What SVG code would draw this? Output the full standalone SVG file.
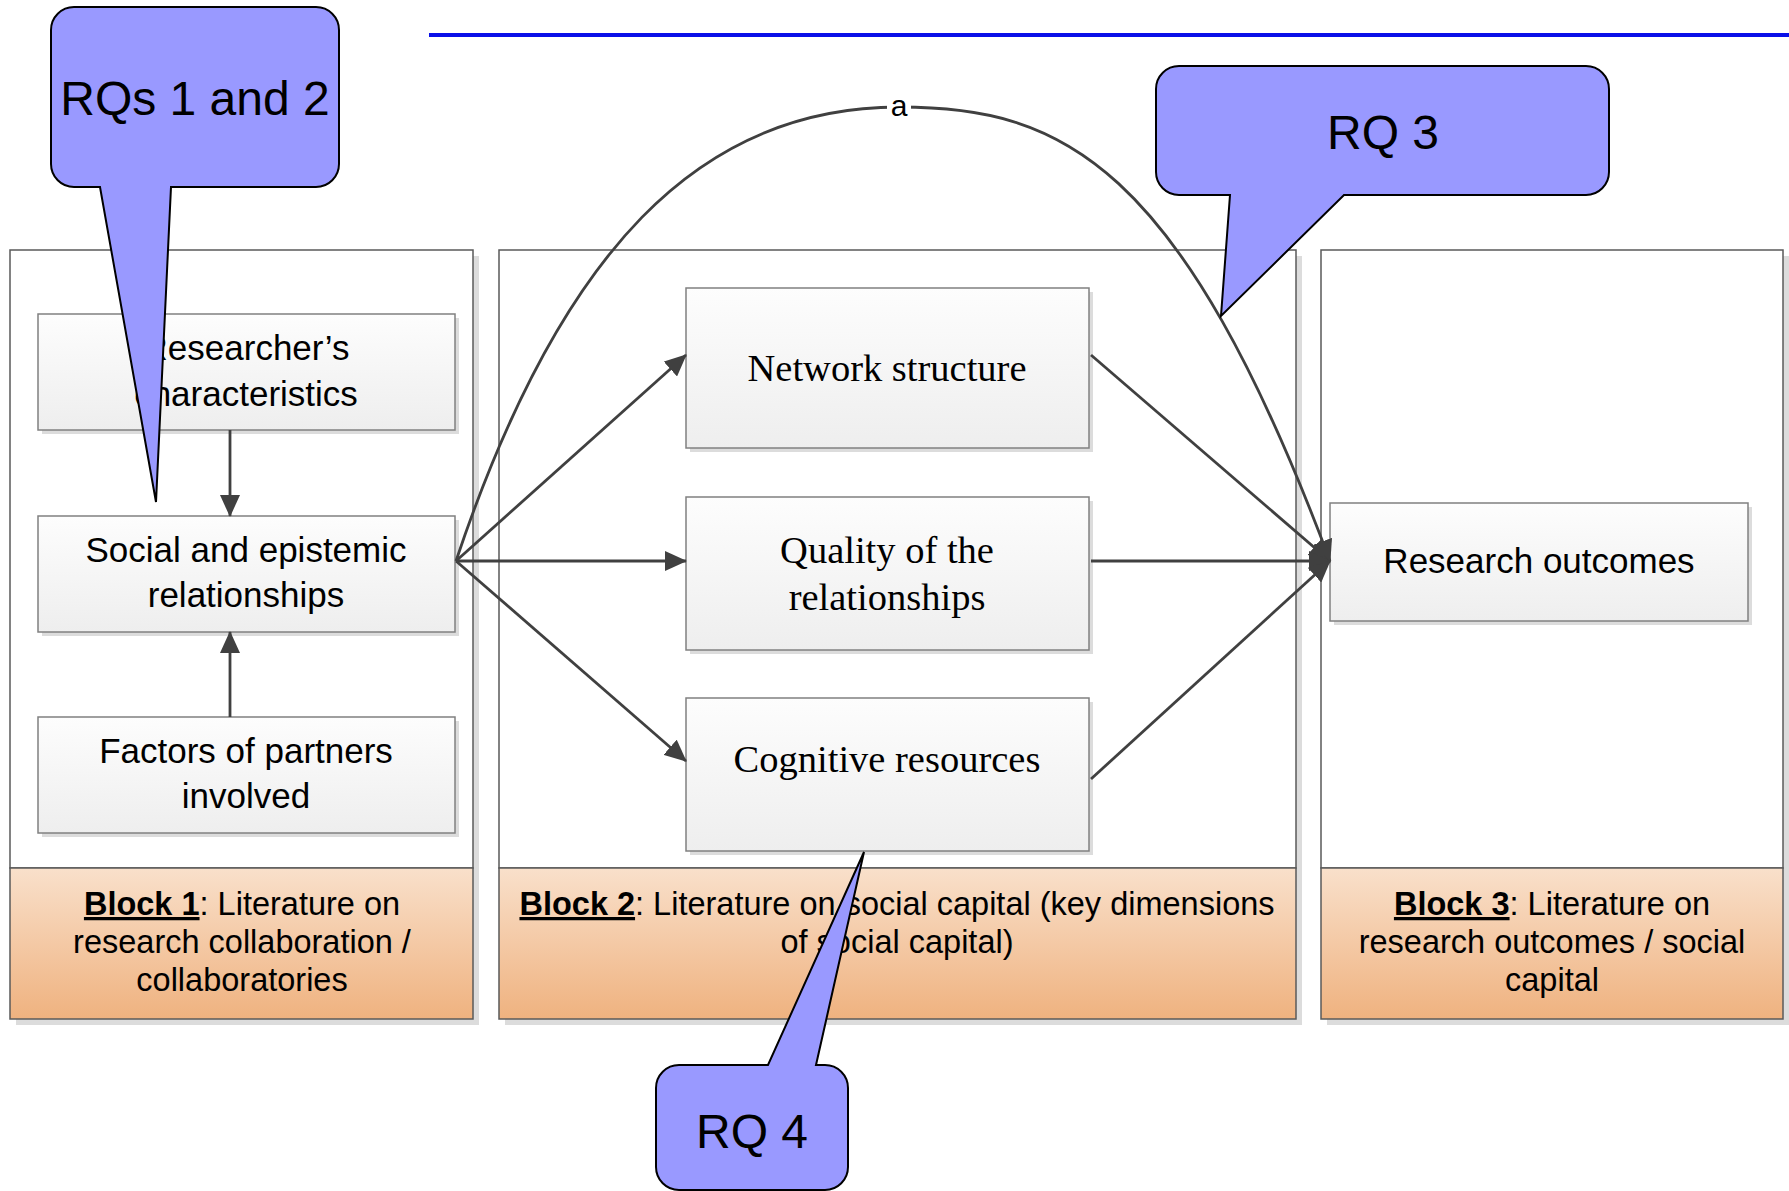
<svg xmlns="http://www.w3.org/2000/svg" width="1789" height="1191" viewBox="0 0 1789 1191">
  <defs>
    <linearGradient id="boxFill" x1="0" y1="0" x2="0" y2="1">
      <stop offset="0" stop-color="#FDFDFD"/>
      <stop offset="1" stop-color="#EEEEEE"/>
    </linearGradient>
    <linearGradient id="bandFill" x1="0" y1="0" x2="0" y2="1">
      <stop offset="0" stop-color="#F9E0CB"/>
      <stop offset="1" stop-color="#EFB27F"/>
    </linearGradient>
    <marker id="arrow" markerUnits="userSpaceOnUse" viewBox="0 0 22 20" markerWidth="22" markerHeight="20" refX="21" refY="10" orient="auto">
      <path d="M0,0 L22,10 L0,20 Z" fill="#404040"/>
    </marker>
  </defs>
  <style>
    .block { fill: #FFFFFF; stroke: #5A5A5A; stroke-width: 1.5; }
    .band { fill: url(#bandFill); stroke: #5A5A5A; stroke-width: 1.5; }
    .shadow { fill: #DCDCDC; }
    .box { fill: url(#boxFill); stroke: #808080; stroke-width: 1.5; }
    .sans { font-family: "Liberation Sans", Arial, sans-serif; fill: #000; text-anchor: middle; }
    .serif { font-family: "Liberation Serif", "Times New Roman", serif; fill: #000; text-anchor: middle; font-size: 38.5px; }
    .boxtext { font-size: 35px; }
    .bandtext { font-size: 32.5px; }
    .edge { fill: none; stroke: #404040; stroke-width: 2.8; marker-end: url(#arrow); }
    .callout { fill: #9999FF; stroke: #000; stroke-width: 2; stroke-linejoin: miter; }
    .rq { font-family: "Liberation Sans", Arial, sans-serif; font-size: 48px; text-anchor: middle; fill: #000; }
  </style>

  <!-- header rule -->
  <line x1="429" y1="35" x2="1789" y2="35" stroke="#0A10E8" stroke-width="4"/>

  <!-- Block 1 -->
  <g id="block1">
    <rect class="shadow" x="16" y="256" width="463" height="769"/>
    <rect class="block" x="10" y="250" width="463" height="618"/>
    <rect class="band" x="10" y="868" width="463" height="151"/>
    <text class="sans bandtext" x="242" y="915"><tspan font-weight="bold" text-decoration="underline">Block 1</tspan>: Literature on</text>
    <text class="sans bandtext" x="242" y="953">research collaboration /</text>
    <text class="sans bandtext" x="242" y="991">collaboratories</text>
  </g>

  <!-- Block 2 -->
  <g id="block2">
    <rect class="shadow" x="505" y="256" width="797" height="769"/>
    <rect class="block" x="499" y="250" width="797" height="618"/>
    <rect class="band" x="499" y="868" width="797" height="151"/>
    <text class="sans bandtext" x="897" y="915"><tspan font-weight="bold" text-decoration="underline">Block 2</tspan>: Literature on social capital (key dimensions</text>
    <text class="sans bandtext" x="897" y="953">of social capital)</text>
  </g>

  <!-- Block 3 -->
  <g id="block3">
    <rect class="shadow" x="1327" y="256" width="462" height="769"/>
    <rect class="block" x="1321" y="250" width="462" height="618"/>
    <rect class="band" x="1321" y="868" width="462" height="151"/>
    <text class="sans bandtext" x="1552" y="915"><tspan font-weight="bold" text-decoration="underline">Block 3</tspan>: Literature on</text>
    <text class="sans bandtext" x="1552" y="953">research outcomes / social</text>
    <text class="sans bandtext" x="1552" y="991">capital</text>
  </g>

  <!-- Block 1 boxes -->
  <g id="researchers-characteristics">
    <rect class="shadow" x="42" y="318" width="417" height="116"/>
    <rect class="box" x="38" y="314" width="417" height="116"/>
    <text class="sans boxtext" x="246" y="360">Researcher’s</text>
    <text class="sans boxtext" x="246" y="406">characteristics</text>
  </g>
  <g id="social-epistemic">
    <rect class="shadow" x="42" y="520" width="417" height="116"/>
    <rect class="box" x="38" y="516" width="417" height="116"/>
    <text class="sans boxtext" x="246" y="562">Social and epistemic</text>
    <text class="sans boxtext" x="246" y="607">relationships</text>
  </g>
  <g id="factors-partners">
    <rect class="shadow" x="42" y="721" width="417" height="116"/>
    <rect class="box" x="38" y="717" width="417" height="116"/>
    <text class="sans boxtext" x="246" y="763">Factors of partners</text>
    <text class="sans boxtext" x="246" y="808">involved</text>
  </g>

  <!-- Block 2 boxes -->
  <g id="network-structure">
    <rect class="shadow" x="690" y="292" width="403" height="160"/>
    <rect class="box" x="686" y="288" width="403" height="160"/>
    <text class="serif" x="887" y="381">Network structure</text>
  </g>
  <g id="quality-relationships">
    <rect class="shadow" x="690" y="501" width="403" height="153"/>
    <rect class="box" x="686" y="497" width="403" height="153"/>
    <text class="serif" x="887" y="563">Quality of the</text>
    <text class="serif" x="887" y="610">relationships</text>
  </g>
  <g id="cognitive-resources">
    <rect class="shadow" x="690" y="702" width="403" height="153"/>
    <rect class="box" x="686" y="698" width="403" height="153"/>
    <text class="serif" x="887" y="772">Cognitive resources</text>
  </g>

  <!-- Block 3 box -->
  <g id="research-outcomes">
    <rect class="shadow" x="1334" y="507" width="418" height="118"/>
    <rect class="box" x="1330" y="503" width="418" height="118"/>
    <text class="sans boxtext" x="1539" y="573">Research outcomes</text>
  </g>

  <!-- connectors -->
  <g id="connectors">
    <line class="edge" x1="230" y1="430" x2="230" y2="516"/>
    <line class="edge" x1="230" y1="717" x2="230" y2="632"/>
    <line class="edge" x1="456" y1="561" x2="686" y2="355"/>
    <line class="edge" x1="456" y1="561" x2="686" y2="561"/>
    <line class="edge" x1="456" y1="561" x2="686" y2="761"/>
    <line class="edge" x1="1091" y1="355" x2="1330" y2="561"/>
    <line class="edge" x1="1091" y1="561" x2="1330" y2="561"/>
    <line class="edge" x1="1091" y1="779" x2="1330" y2="561"/>
    <path class="edge" d="M456,561 C560,250 700,107 899,107 C1060,107 1180,160 1330,561"/>
    <rect x="887" y="94" width="24" height="26" fill="#FFFFFF"/>
    <text class="sans" x="899" y="116" font-size="30">a</text>
  </g>

  <!-- research question callouts -->
  <g id="rq-1-2">
    <path class="callout" d="M74,7 H316 A23,23 0 0 1 339,30 V164 A23,23 0 0 1 316,187 H171 L156,502 L100,187 H74 A23,23 0 0 1 51,164 V30 A23,23 0 0 1 74,7 Z"/>
    <text class="rq" x="195" y="115">RQs 1 and 2</text>
  </g>
  <g id="rq-3">
    <path class="callout" d="M1179,66 H1586 A23,23 0 0 1 1609,89 V172 A23,23 0 0 1 1586,195 H1344 L1221,316 L1230,195 H1179 A23,23 0 0 1 1156,172 V89 A23,23 0 0 1 1179,66 Z"/>
    <text class="rq" x="1383" y="149">RQ 3</text>
  </g>
  <g id="rq-4">
    <path class="callout" d="M679,1065 H768 L864,852 L816,1065 H825 A23,23 0 0 1 848,1088 V1167 A23,23 0 0 1 825,1190 H679 A23,23 0 0 1 656,1167 V1088 A23,23 0 0 1 679,1065 Z"/>
    <text class="rq" x="752" y="1148">RQ 4</text>
  </g>
</svg>
